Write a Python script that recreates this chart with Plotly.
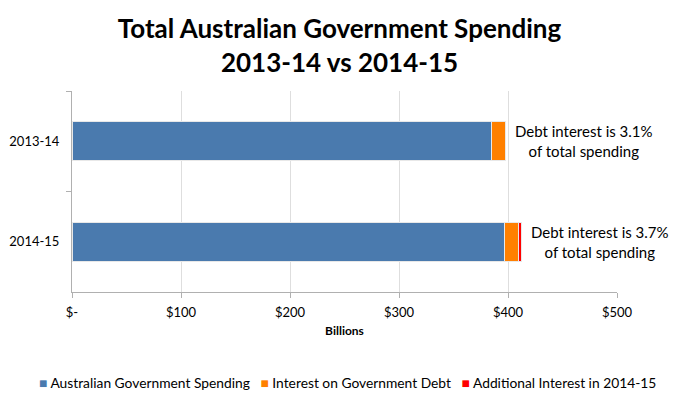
import plotly.graph_objects as go

years = ["2013-14", "2014-15"]
spending = [385, 397]
interest = [12.3, 12.3]
additional = [0, 2.9]
notes = ["Debt interest is 3.1%<br>of total spending", "Debt interest is 3.7%<br>of total spending"]
tick_vals = [0, 100, 200, 300, 400, 500]
tick_text = ["$-", "$100", "$200", "$300", "$400", "$500"]
series_names = ["Australian Government Spending", "Interest on Government Debt", "Additional Interest in 2014-15"]
series_colors = ["#4a7aae", "#ff8000", "#ff0000"]

FONT = "Lato"

fig = go.Figure()
for name, vals, col in zip(series_names, [spending, interest, additional], series_colors):
    fig.add_trace(go.Bar(
        y=years, x=vals, name=name, orientation="h",
        marker=dict(color=col, line=dict(color="#e8e8e8", width=1)),
        width=0.39, showlegend=False,
    ))

for i, (yr, note) in enumerate(zip(years, notes)):
    total = spending[i] + interest[i] + additional[i]
    fig.add_annotation(
        x=total, y=yr, xref="x", yref="y", text=note, showarrow=False,
        xanchor="left", xshift=8, align="center",
        font=dict(family=FONT, size=15, color="#000"),
    )

# legend row (coloured squares + names)
legend_text = "   ".join(
    f"<span style='color:{c}'>■</span> {n}" for n, c in zip(series_names, series_colors)
)
fig.add_annotation(
    x=0.506, y=-0.45, xref="paper", yref="paper", text=legend_text, showarrow=False,
    xanchor="center", yanchor="middle", font=dict(family=FONT, size=13.8, color="#000"),
)

fig.update_layout(
    width=679, height=404,
    margin=dict(l=72, r=62, t=91, b=112, autoexpand=False),
    paper_bgcolor="white", plot_bgcolor="white",
    barmode="stack",
    showlegend=False,
    title=dict(
        text="<b>Total Australian Government Spending<br>2013-14 vs 2014-15</b>",
        x=0.5, xanchor="center", y=0.905, yanchor="middle",
        font=dict(family=FONT, size=26, color="#000"),
    ),
    font=dict(family=FONT, size=13, color="#000"),
    xaxis=dict(
        range=[0, 500], tickvals=tick_vals, ticktext=tick_text,
        showgrid=True, gridcolor="#dedede", gridwidth=1,
        showline=True, linecolor="#b0b0b0", ticks="outside", tickcolor="#b0b0b0",
        ticklen=5, zeroline=False, ticklabelstandoff=3, automargin=False,
        title=dict(text="<b>Billions</b>", font=dict(family=FONT, size=12), standoff=8),
        tickfont=dict(family=FONT, size=13),
    ),
    yaxis=dict(
        autorange="reversed", showline=True, linecolor="#b0b0b0",
        ticks="outside", tickson="boundaries", tickcolor="#b0b0b0", ticklen=5,
        ticklabelstandoff=9, automargin=False,
        tickfont=dict(family=FONT, size=13), showgrid=False,
    ),
)

fig.write_html("out.html")
